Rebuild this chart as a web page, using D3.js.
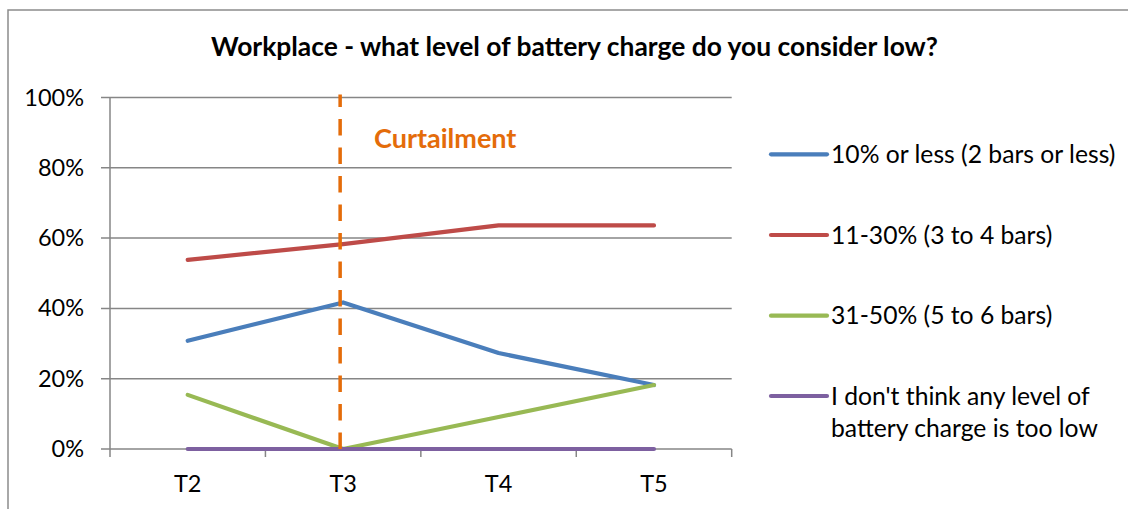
<!DOCTYPE html>
<html lang="en">
<head>
  <meta charset="UTF-8">
  <title>Workplace battery charge</title>
  <style>
    body { margin: 0; padding: 0; background: #fff; }
    svg { display: block; }
    text { font-family: Lato, "Open Sans", sans-serif; fill: #000; }
  </style>
</head>
<body>
<svg width="1128" height="509"></svg>
<script src="https://cdn.jsdelivr.net/npm/d3@7"></script>
<script>
const categories = ["T2", "T3", "T4", "T5"];
const seriesNames = [
  "10% or less (2 bars or less)",
  "11-30% (3 to 4 bars)",
  "31-50% (5 to 6 bars)",
  "I don't think any level of battery charge is too low"
];
const legendLines = [
  ["10% or less (2 bars or less)"],
  ["11-30% (3 to 4 bars)"],
  ["31-50% (5 to 6 bars)"],
  ["I don't think any level of", "battery charge is too low"]
];
const lowValues = [0.308, 0.417, 0.273, 0.182];
const midValues = [0.538, 0.583, 0.636, 0.636];
const highValues = [0.154, 0.0, 0.091, 0.182];
const noneValues = [0, 0, 0, 0];
const yTicks = [0, 0.2, 0.4, 0.6, 0.8, 1.0];
const colors = ["#4a7ebb", "#be4b48", "#98b954", "#7d60a0"];
const markerCategory = "T3";

const allSeries = [lowValues, midValues, highValues, noneValues];

const svg = d3.select("svg");

// outer chart border (only top and left are inside the view)
svg.append("path")
  .attr("d", "M 8 509 L 8 10 L 1128 10")
  .attr("fill", "none")
  .attr("stroke", "#8c8c8c")
  .attr("stroke-width", 1.5);

const x = d3.scaleBand().domain(categories).range([110, 731.7]);
const y = d3.scaleLinear().domain([0, 1]).range([449, 97.5]);

// gridlines + y ticks
svg.append("g")
  .selectAll("line")
  .data(yTicks)
  .join("line")
  .attr("x1", 101)
  .attr("x2", x.range()[1])
  .attr("y1", d => y(d))
  .attr("y2", d => y(d))
  .attr("stroke", "#868686")
  .attr("stroke-width", 1.5);

// y axis line
svg.append("line")
  .attr("x1", 110).attr("x2", 110)
  .attr("y1", y(1)).attr("y2", y(0) + 8)
  .attr("stroke", "#868686")
  .attr("stroke-width", 1.5);

// x ticks at band edges
const edges = categories.map(c => x(c)).concat([x.range()[1]]);
svg.append("g")
  .selectAll("line")
  .data(edges.slice(1))
  .join("line")
  .attr("x1", d => d).attr("x2", d => d)
  .attr("y1", y(0)).attr("y2", y(0) + 8)
  .attr("stroke", "#868686")
  .attr("stroke-width", 1.5);

// y labels
svg.append("g")
  .selectAll("text")
  .data(yTicks)
  .join("text")
  .attr("x", 84)
  .attr("y", d => y(d) + 8)
  .attr("text-anchor", "end")
  .style("font-size", "23.5px")
  .text(d => d3.format(".0%")(d));

// x labels
svg.append("g")
  .selectAll("text")
  .data(categories)
  .join("text")
  .attr("x", d => x(d) + x.bandwidth() / 2)
  .attr("y", 491.5)
  .attr("text-anchor", "middle")
  .style("font-size", "23.5px")
  .text(d => d);

// series lines
const line = d3.line()
  .x((d, i) => x(categories[i]) + x.bandwidth() / 2)
  .y(d => y(d));

svg.append("g")
  .selectAll("path")
  .data(allSeries)
  .join("path")
  .attr("d", d => line(d))
  .attr("fill", "none")
  .attr("stroke", (d, i) => colors[i])
  .attr("stroke-width", 4.2)
  .attr("stroke-linecap", "round")
  .attr("stroke-linejoin", "round");

// curtailment marker
const mx = x(markerCategory) + x.bandwidth() / 2 - 3;
svg.append("line")
  .attr("x1", mx).attr("x2", mx)
  .attr("y1", y(0)).attr("y2", y(1) - 3)
  .attr("stroke", "#e46c0a")
  .attr("stroke-width", 3.5)
  .attr("stroke-dasharray", "16.5,12");

svg.append("text")
  .attr("x", 374)
  .attr("y", 147.5)
  .style("font-size", "27px")
  .style("font-weight", "bold")
  .style("fill", "#e46c0a")
  .text("Curtailment");

// title
svg.append("text")
  .attr("x", 574.5)
  .attr("y", 56)
  .attr("text-anchor", "middle")
  .style("font-size", "26.4px")
  .style("font-weight", "bold")
  .text("Workplace - what level of battery charge do you consider low?");

// legend
const legendY = [154.3, 235, 315.7, 396];
const legend = svg.append("g")
  .selectAll("g")
  .data(seriesNames)
  .join("g")
  .attr("transform", (d, i) => `translate(771,${legendY[i]})`);

legend.append("line")
  .attr("x1", 0).attr("x2", 56)
  .attr("stroke", (d, i) => colors[i])
  .attr("stroke-width", 4.2)
  .attr("stroke-linecap", "round");

legend.append("text")
  .attr("x", 60)
  .attr("y", 8.5)
  .style("font-size", "24.7px")
  .selectAll("tspan")
  .data((d, i) => legendLines[i])
  .join("tspan")
  .attr("x", 60)
  .attr("dy", (d, j) => j === 0 ? 0 : 32)
  .text(d => d);
</script>
</body>
</html>
